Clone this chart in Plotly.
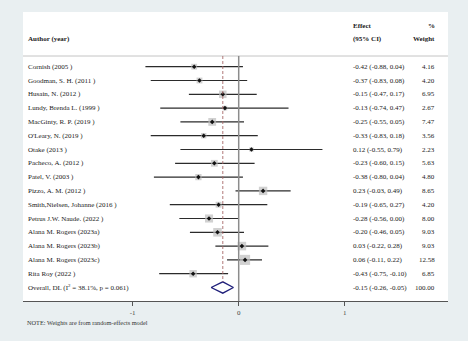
import math
import plotly.graph_objects as go

# Study-level effects, confidence limits and random-effects weights
authors = [
    "Cornish (2005 )", "Goodman, S. H. (2011 )", "Husain, N. (2012 )",
    "Lundy, Brenda L. (1999 )", "MacGinty, R. P. (2019 )", "O'Leary, N. (2019 )",
    "Otake (2013 )", "Pacheco, A. (2012 )", "Patel, V. (2003 )",
    "Pizzo, A. M. (2012 )", "Smith,Nielsen, Johanne (2016 )",
    "Petrus J.W. Naude. (2022 )", "Alana M. Rogers (2023a)",
    "Alana M. Rogers (2023b)", "Alana M. Rogers (2023c)", "Rita Roy (2022 )",
]
effect = [-0.42, -0.37, -0.15, -0.13, -0.25, -0.33, 0.12, -0.23, -0.38,
          0.23, -0.19, -0.28, -0.20, 0.03, 0.06, -0.43]
ci_low = [-0.88, -0.83, -0.47, -0.74, -0.55, -0.83, -0.55, -0.60, -0.80,
          -0.03, -0.65, -0.56, -0.46, -0.22, -0.11, -0.75]
ci_high = [0.04, 0.08, 0.17, 0.47, 0.05, 0.18, 0.79, 0.15, 0.04,
           0.49, 0.27, 0.00, 0.05, 0.28, 0.22, -0.10]
weight = [4.16, 4.20, 6.95, 2.67, 7.47, 3.56, 2.23, 5.63, 4.80,
          8.65, 4.20, 8.00, 9.03, 9.03, 12.58, 6.85]

overall_label = "Overall, DL (I<sup>2</sup> = 38.1%, p = 0.061)"
overall_effect = -0.15
overall_low = -0.26
overall_high = -0.05
overall_weight = 100.00

tick_vals = [-1, 0, 1]
tick_text = ["-1", "0", "1"]
note_text = "NOTE: Weights are from random-effects model"

# Layout geometry (pixels)
W, H = 468, 341
left, right, top, bottom_px = 23, 448, 12, 301
px_per_unit = 106.0
zero_px = 238.7
row0_px, row_step = 66.7, 13.8

x_min = (left - zero_px) / px_per_unit
x_max = (right - zero_px) / px_per_unit
def row_of(py):
    return (py - row0_px) / row_step
y_top = row_of(top)
y_bot = row_of(bottom_px)

n = len(authors)
rows = list(range(n))
overall_row = n
header_line = row_of(56)

serif = "Liberation Serif"
txt_col = "#222222"
x_label = (26 - zero_px) / px_per_unit
x_eff = (351 - zero_px) / px_per_unit
x_wt = (437 - zero_px) / px_per_unit

fig = go.Figure()

# Confidence interval whiskers
for r, lo, hi in zip(rows, ci_low, ci_high):
    fig.add_trace(go.Scatter(x=[lo, hi], y=[r, r], mode="lines",
                             line=dict(color="#2b2b2b", width=1.2),
                             hoverinfo="skip", showlegend=False))

# Weight boxes (area proportional to weight) and point estimates
box_sizes = [2.85 * math.sqrt(w) for w in weight]
fig.add_trace(go.Scatter(x=effect, y=rows, mode="markers",
                         marker=dict(symbol="square", size=box_sizes,
                                     color="#bdbdbd", line=dict(width=0)),
                         hoverinfo="skip", showlegend=False))
fig.add_trace(go.Scatter(x=effect, y=rows, mode="markers",
                         marker=dict(symbol="diamond", size=3.5, color="#111111"),
                         hoverinfo="skip", showlegend=False))

# Pooled estimate diamond
dh = 0.41
fig.add_trace(go.Scatter(
    x=[overall_low, overall_effect, overall_high, overall_effect, overall_low],
    y=[overall_row, overall_row - dh, overall_row, overall_row + dh, overall_row],
    mode="lines", line=dict(color="#1f1f7a", width=1.3),
    hoverinfo="skip", showlegend=False))

shapes = [
    # header rule
    dict(type="line", xref="paper", x0=0, x1=1, yref="y",
         y0=header_line, y1=header_line, line=dict(color="#c4c4c4", width=1)),
    # line of no effect
    dict(type="line", xref="x", x0=0, x1=0, yref="y",
         y0=header_line, y1=y_bot, line=dict(color="#8c8c8c", width=1.5)),
    # pooled-effect reference line
    dict(type="line", xref="x", x0=overall_effect, x1=overall_effect, yref="y",
         y0=header_line, y1=overall_row - dh,
         line=dict(color="#a86a6a", width=0.9, dash="3px,2px")),
]

annotations = []
def label(x, y, text, anchor, bold=False, size=7, color=txt_col):
    if bold:
        text = "<b>" + text + "</b>"
    annotations.append(dict(x=x, y=y, xref="x", yref="y", text=text,
                            showarrow=False, xanchor=anchor, yanchor="middle",
                            font=dict(family=serif, size=size, color=color)))

# Column headers
label(x_label, row_of(39), "Author (year)", "left", bold=True)
label(x_eff, row_of(26), "Effect", "left", bold=True)
label(x_eff, row_of(39), "(95% CI)", "left", bold=True)
label(x_wt, row_of(26), "%", "right", bold=True)
label(x_wt, row_of(39), "Weight", "right", bold=True)

# Study rows
for r, a, e, lo, hi, w in zip(rows, authors, effect, ci_low, ci_high, weight):
    label(x_label, r, a, "left")
    label(x_eff, r, f"{e:.2f} ({lo:.2f}, {hi:.2f})", "left")
    label(x_wt, r, f"{w:.2f}", "right")

label(x_label, overall_row, overall_label, "left")
label(x_eff, overall_row,
      f"{overall_effect:.2f} ({overall_low:.2f}, {overall_high:.2f})", "left")
label(x_wt, overall_row, f"{overall_weight:.2f}", "right")

# Footnote below the axis
annotations.append(dict(x=(25 - left) / (right - left), y=-(322.7 - bottom_px) / (bottom_px - top),
                        xref="paper", yref="paper", text=note_text, showarrow=False,
                        xanchor="left", yanchor="middle",
                        font=dict(family=serif, size=6.3, color="#333333")))

fig.update_layout(
    width=W, height=H,
    margin=dict(l=left, r=W - right, t=top, b=H - bottom_px, pad=0),
    paper_bgcolor="#e9eff1", plot_bgcolor="#ffffff",
    shapes=shapes, annotations=annotations,
    xaxis=dict(range=[x_min, x_max], showgrid=False, zeroline=False,
               showline=True, linecolor="#555555", linewidth=1.2,
               ticks="outside", ticklen=4, tickcolor="#555555", tickwidth=1,
               tickvals=tick_vals, ticktext=tick_text,
               tickfont=dict(family=serif, size=7, color="#444444"),
               fixedrange=True),
    yaxis=dict(range=[y_bot, y_top], showgrid=False, zeroline=False,
               showticklabels=False, showline=False, fixedrange=True),
)

fig.write_html("out.html", config={"displayModeBar": False})
